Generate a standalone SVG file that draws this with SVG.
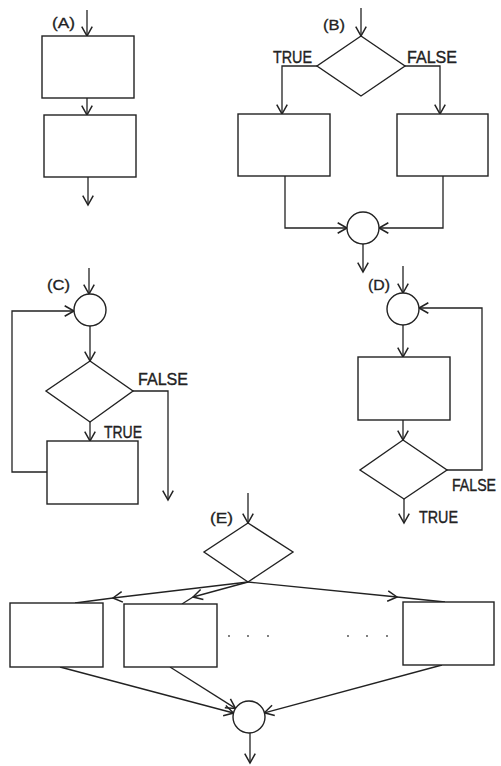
<svg xmlns="http://www.w3.org/2000/svg" width="501" height="766" viewBox="0 0 501 766">
<style>
.n{fill:#fff;stroke:#222;stroke-width:1.4}
.c{fill:none;stroke:#222;stroke-width:1.3}
.a{marker-end:url(#ah)}
.t{font-family:"Liberation Sans",Arial,sans-serif;font-size:16px;fill:#222;stroke:#222;stroke-width:0.35}
.p{font-family:"Liberation Sans",Arial,sans-serif;font-size:14px;fill:#222;stroke:#222;stroke-width:0.3}
.d{fill:#444}
</style>
<defs>
<marker id="ah" markerUnits="userSpaceOnUse" markerWidth="14" markerHeight="14" viewBox="-10 -6 12 12" refX="0" refY="0" orient="auto">
<path d="M-8,-4.5 L0,0 L-8,4.5" fill="none" stroke="#222" stroke-width="1.3"/>
</marker>
</defs>
<rect width="501" height="766" fill="#fff"/>
<g id="connectors">
<path class="c a" d="M87,10 V36"/>
<path class="c a" d="M87,98 V115"/>
<path class="c a" d="M88,177 V205"/>
<path class="c a" d="M361,8 V36"/>
<path class="c a" d="M317,66 H282 V114"/>
<path class="c a" d="M405,66 H440 V114"/>
<path class="c a" d="M285,176 V228 H347"/>
<path class="c a" d="M443,176 V228 H379"/>
<path class="c a" d="M363,244 V272"/>
<path class="c a" d="M89,268 V294"/>
<path class="c a" d="M90,326 V361"/>
<path class="c a" d="M47,472 H12 V311 H74"/>
<path class="c a" d="M133,391 H168 V500"/>
<path class="c a" d="M90,422 V441"/>
<path class="c a" d="M403,266 V293"/>
<path class="c a" d="M403,325 V357"/>
<path class="c a" d="M403,420 V440"/>
<path class="c a" d="M447,470 H482 V308 H419"/>
<path class="c a" d="M404,499 V523"/>
<path class="c a" d="M248,493 V523"/>
<path class="c a" d="M248,582 L113,598"/>
<path class="c" d="M113,598 L75,603"/>
<path class="c a" d="M248,582 L193,597"/>
<path class="c" d="M193,597 L182,604"/>
<path class="c a" d="M248,582 L397,597"/>
<path class="c" d="M397,597 L445,602"/>
<path class="c a" d="M60,667 L233.5,713"/>
<path class="c a" d="M170,667 L235.5,708.4"/>
<path class="c a" d="M442,665 L264.4,712.8"/>
<path class="c a" d="M250,733 V763"/>
</g>
<g id="A">
<text class="p" x="52" y="28" textLength="23" lengthAdjust="spacingAndGlyphs">(A)</text>
<rect id="A1" class="n" x="42" y="36" width="92" height="62"/>
<rect id="A2" class="n" x="44" y="115" width="92" height="62"/>
</g>
<g id="B">
<text class="p" x="323" y="30" textLength="22" lengthAdjust="spacingAndGlyphs">(B)</text>
<polygon id="B-dec" class="n" points="361,36 405,66 361,96 317,66"/>
<text class="t" x="273" y="63" textLength="39" lengthAdjust="spacingAndGlyphs">TRUE</text>
<text class="t" x="407" y="63" textLength="50" lengthAdjust="spacingAndGlyphs">FALSE</text>
<rect id="B-left" class="n" x="238" y="114" width="92" height="62"/>
<rect id="B-right" class="n" x="397" y="114" width="91" height="62"/>
<circle id="B-join" class="n" cx="363" cy="228" r="16"/>
</g>
<g id="C">
<text class="p" x="47" y="290" textLength="23" lengthAdjust="spacingAndGlyphs">(C)</text>
<circle id="C-join" class="n" cx="90" cy="310" r="16"/>
<polygon id="C-dec" class="n" points="90,361 133,391 90,422 46,391"/>
<text class="t" x="138" y="385" textLength="50" lengthAdjust="spacingAndGlyphs">FALSE</text>
<text class="t" x="104" y="438" textLength="38" lengthAdjust="spacingAndGlyphs">TRUE</text>
<rect id="C-body" class="n" x="47" y="441" width="91" height="63"/>
</g>
<g id="D">
<text class="p" x="368" y="290" textLength="22" lengthAdjust="spacingAndGlyphs">(D)</text>
<circle id="D-join" class="n" cx="403" cy="309" r="16"/>
<rect id="D-body" class="n" x="358" y="357" width="92" height="63"/>
<polygon id="D-dec" class="n" points="403,440 447,470 404,499 360,470"/>
<text class="t" x="452" y="491" textLength="44" lengthAdjust="spacingAndGlyphs">FALSE</text>
<text class="t" x="419" y="523" textLength="39" lengthAdjust="spacingAndGlyphs">TRUE</text>
</g>
<g id="E">
<text class="p" x="210" y="523" textLength="23" lengthAdjust="spacingAndGlyphs">(E)</text>
<polygon id="E-dec" class="n" points="248,523 293,552 248,582 204,552"/>
<rect id="E1" class="n" x="10" y="603" width="93" height="64"/>
<rect id="E2" class="n" x="124" y="604" width="93" height="63"/>
<rect id="E3" class="n" x="403" y="602" width="91" height="63"/>
<circle id="E-join" class="n" cx="249" cy="717" r="16"/>
<g id="E-dots">
<circle class="d" cx="229" cy="636" r="0.9"/>
<circle class="d" cx="248" cy="636" r="0.9"/>
<circle class="d" cx="268" cy="636" r="0.9"/>
<circle class="d" cx="348" cy="636" r="0.9"/>
<circle class="d" cx="367" cy="636" r="0.9"/>
<circle class="d" cx="387" cy="636" r="0.9"/>
</g>
</g>
</svg>
